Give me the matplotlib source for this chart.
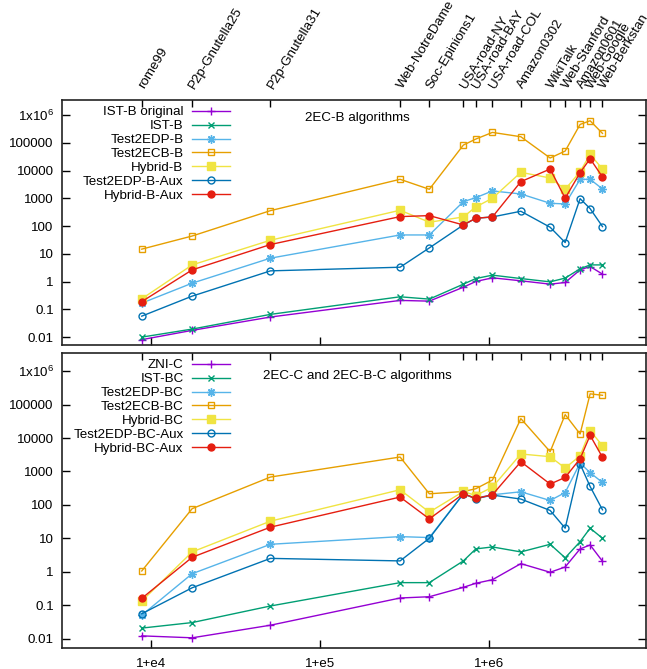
import matplotlib
matplotlib.use("Agg")
import matplotlib.pyplot as plt

plt.rcParams['font.family'] = ['Liberation Sans', 'DejaVu Sans']
plt.rcParams['mathtext.default'] = 'regular'
FS = 9.6

graphs = ["rome99", "P2p-Gnutella25", "P2p-Gnutella31", "Web-NotreDame", "Soc-Epinions1",
          "USA-road-NY", "USA-road-BAY", "USA-road-COL", "Amazon0302", "WikiTalk",
          "Web-Stanford", "Amazon0601", "Web-Google", "Web-Berkstan"]
edges = [8870, 17600, 51000, 297000, 442000, 702000, 831000, 1042000, 1533000,
         2283000, 2800000, 3430000, 3930000, 4650000]

# top panel (2EC-B)
ist_b_orig = [0.0081, 0.0175, 0.053, 0.21, 0.198, 0.63, 1.01, 1.37, 1.07, 0.81, 0.93, 2.65, 3.5, 1.86]
ist_b = [0.0100, 0.0195, 0.066, 0.284, 0.234, 0.81, 1.29, 1.71, 1.29, 0.98, 1.34, 2.9, 4.0, 4.0]
t2edp_b = [0.168, 0.88, 7.0, 48, 48, 762, 1060, 1850, 1440, 665, 629, 4860, 4860, 2180]
t2ecb_b = [14.8, 44, 361, 4860, 2120, 83400, 137000, 238000, 166000, 28400, 50700, 461000, 625000, 219000]
hybrid_b = [0.24, 4.0, 31, 373, 138, 214, 491, 1010, 8650, 5420, 2120, 9150, 38500, 11400]
t2edp_b_aux = [0.057, 0.30, 2.44, 3.3, 16.4, 110, 192, 214, 343, 91, 25.6, 977, 427, 96]
hybrid_b_aux = [0.19, 2.65, 21.7, 220, 239, 110, 192, 214, 4000, 11400, 1010, 8430, 26800, 5890]

# bottom panel (2EC-C and 2EC-B-C)
zni_c = [0.012, 0.0105, 0.025, 0.163, 0.178, 0.34, 0.45, 0.575, 1.74, 0.96, 1.38, 4.8, 6.3, 2.05]
ist_bc = [0.0205, 0.030, 0.094, 0.47, 0.47, 2.1, 4.8, 5.5, 3.9, 6.6, 2.6, 7.9, 20, 10]
t2edp_bc = [0.050, 0.87, 6.6, 11.2, 10.5, 214, 159, 200, 246, 135, 234, 1790, 914, 468]
t2ecb_bc = [1.05, 77, 680, 2700, 214, 251, 303, 552, 38100, 3900, 50200, 13200, 210000, 190000]
hybrid_bc = [0.132, 3.9, 32.5, 283, 60.5, 251, 190, 340, 3330, 2760, 1260, 2960, 16600, 5900]
t2edp_bc_aux = [0.055, 0.33, 2.5, 2.1, 10, 214, 152, 196, 149, 68, 20, 1670, 355, 71]
hybrid_bc_aux = [0.159, 2.7, 21.5, 171, 38, 214, 155, 200, 1950, 419, 661, 2400, 12000, 2640]

top_labels = ["IST-B original", "IST-B", "Test2EDP-B", "Test2ECB-B", "Hybrid-B",
              "Test2EDP-B-Aux", "Hybrid-B-Aux"]
bot_labels = ["ZNI-C", "IST-BC", "Test2EDP-BC", "Test2ECB-BC", "Hybrid-BC",
              "Test2EDP-BC-Aux", "Hybrid-BC-Aux"]
top_series = [ist_b_orig, ist_b, t2edp_b, t2ecb_b, hybrid_b, t2edp_b_aux, hybrid_b_aux]
bot_series = [zni_c, ist_bc, t2edp_bc, t2ecb_bc, hybrid_bc, t2edp_bc_aux, hybrid_bc_aux]

colors = ['#9400d3', '#009e73', '#56b4e9', '#e69f00', '#f0e442', '#0072b2', '#e51e10']
styles = [dict(marker='+', ms=6, mfc='none'),
          dict(marker='x', ms=5, mfc='none'),
          dict(marker=(8, 2, 0), ms=6, mfc='none'),
          dict(marker='s', ms=5, mfc='none'),
          dict(marker='s', ms=5.5, mfc=None),
          dict(marker='o', ms=5, mfc='none'),
          dict(marker='o', ms=5, mfc=None)]

ytick_vals = [0.01, 0.1, 1, 10, 100, 1000, 10000, 100000, 1e6]
ytick_txt = ["0.01", "0.1", "1", "10", "100", "1000", "10000", "100000", r"1x10$^{6}$"]
xtick_vals = [1e4, 1e5, 1e6]
xtick_txt = ["1+e4", "1+e5", "1+e6"]

W, H = 647, 669
fig = plt.figure(figsize=(W / 100, H / 100), dpi=100)
L, R = 62, 646


def make_ax(top, bottom):
    return fig.add_axes([L / W, (H - bottom) / H, (R - L) / W, (bottom - top) / H])


panels = [(100, 345), (353, 648)]
ax_top = make_ax(*panels[0])
ax_bot = make_ax(*panels[1])

XLIM = (3000, 8.4e6)
YLIM = (0.0052, 3.5e6)

for ax, (ptop, pbot), series, labels, title, show_names, title_y in [
        (ax_top, panels[0], top_series, top_labels, "2EC-B algorithms", True, 118),
        (ax_bot, panels[1], bot_series, bot_labels, "2EC-C and 2EC-B-C algorithms", False, 376)]:
    hpx = pbot - ptop
    handles = []
    for vals, lab, col, st in zip(series, labels, colors, styles):
        st = dict(st)
        mfc = st.pop('mfc')
        ln, = ax.plot(edges, vals, color=col, lw=1.0, mew=1.0,
                      mfc=(col if mfc is None else 'none'), mec=col, label=lab, **st)
        handles.append(ln)
    ax.set_xscale('log')
    ax.set_yscale('log')
    ax.set_xlim(*XLIM)
    ax.set_ylim(*YLIM)
    ax.set_yticks(ytick_vals)
    ax.set_yticklabels(ytick_txt, fontsize=FS)
    ax.set_xticks(xtick_vals)
    if ax is ax_bot:
        ax.set_xticklabels(xtick_txt, fontsize=FS)
    else:
        ax.set_xticklabels([])
    ax.minorticks_off()
    ax.tick_params(which='major', direction='in', length=6, width=1.0,
                   top=True, right=True, pad=6, colors='black')
    ax.tick_params(axis='x', pad=7.5)
    for sp in ax.spines.values():
        sp.set_linewidth(1.2)
        sp.set_color('#222222')

    ax2 = ax.twiny()
    ax2.set_xscale('log')
    ax2.set_xlim(*XLIM)
    ax2.set_xticks(edges)
    ax2.minorticks_off()
    ax2.tick_params(direction='in', length=5, width=1.0, pad=9)
    if show_names:
        ax2.set_xticklabels(graphs, fontsize=FS)
        for t in ax2.get_xticklabels():
            t.set_rotation(59)
            t.set_ha('left')
            t.set_va('center')
            t.set_rotation_mode('anchor')
    else:
        ax2.set_xticklabels([])
    for sp in ax2.spines.values():
        sp.set_visible(False)

    ax.legend(handles=handles, loc='upper right', bbox_to_anchor=(0.288, 1 - 6.0 / hpx),
              frameon=False, markerfirst=False, fontsize=FS, handlelength=2.85,
              handletextpad=0.65, labelspacing=0.12, borderpad=0.0,
              borderaxespad=0.0)
    ax.text(0.505, 1 - (title_y - ptop) / hpx, title, transform=ax.transAxes,
            ha='center', va='center', fontsize=FS)

fig.savefig('out.png', dpi=100)
